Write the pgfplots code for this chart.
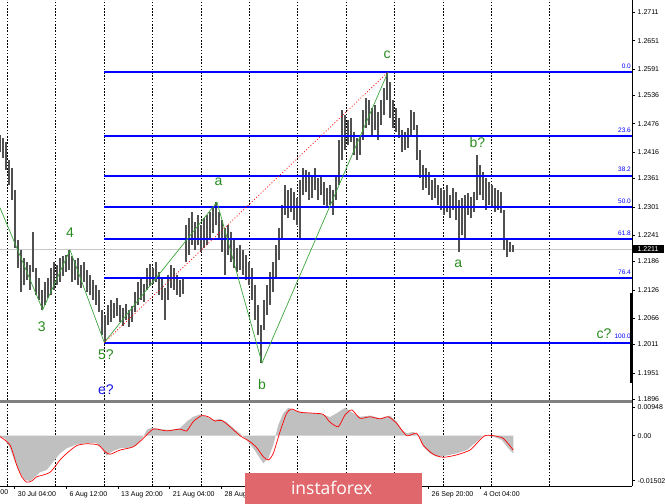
\documentclass[border=0pt]{standalone}
\usepackage{pgfplots}
\usepackage{pgfplotstable}
\pgfplotsset{compat=1.18}
\usepackage{fontspec}
\setmainfont{Liberation Sans}
\newfontfamily\instafont{Open Sans}
\definecolor{fibblue}{RGB}{0,0,255}
\definecolor{wavegreen}{RGB}{40,140,30}
\definecolor{zzgreen}{RGB}{60,165,60}
\definecolor{badge}{RGB}{224,104,108}
\definecolor{bargray}{RGB}{80,80,80}
\definecolor{histgray}{RGB}{192,192,192}
\definecolor{sepgray}{RGB}{128,128,128}
\definecolor{eblue}{RGB}{25,25,225}

\pgfplotstableread{
x lo hi
0 1.2417 1.2453
3 1.2404 1.2446
6 1.2379 1.2438
9 1.2347 1.2400
12 1.2316 1.2383
15 1.2214 1.2337
18 1.2172 1.2231
21 1.2122 1.2210
24 1.2136 1.2193
27 1.2147 1.2185
30 1.2126 1.2179
33 1.2164 1.2248
36 1.2115 1.2172
39 1.2105 1.2151
42 1.2084 1.2126
45 1.2094 1.2143
48 1.2109 1.2151
51 1.2115 1.2172
54 1.2126 1.2185
57 1.2136 1.2179
60 1.2143 1.2193
63 1.2155 1.2198
66 1.2164 1.2200
69 1.2168 1.2210
72 1.2143 1.2198
75 1.2147 1.2189
78 1.2136 1.2193
81 1.2130 1.2179
84 1.2143 1.2185
87 1.2122 1.2168
90 1.2115 1.2158
93 1.2105 1.2147
96 1.2094 1.2136
99 1.2080 1.2126
102 1.2031 1.2084
105 1.2015 1.2073
108 1.2052 1.2094
111 1.2059 1.2105
114 1.2067 1.2099
117 1.2071 1.2109
120 1.2059 1.2094
123 1.2050 1.2088
126 1.2063 1.2096
129 1.2048 1.2084
132 1.2059 1.2092
135 1.2080 1.2122
138 1.2094 1.2143
141 1.2105 1.2151
144 1.2101 1.2139
147 1.2126 1.2172
150 1.2134 1.2181
153 1.2139 1.2172
156 1.2143 1.2185
159 1.2115 1.2164
162 1.2105 1.2151
165 1.2063 1.2130
168 1.2105 1.2158
171 1.2130 1.2179
174 1.2126 1.2172
177 1.2115 1.2158
180 1.2111 1.2147
183 1.2118 1.2151
186 1.2185 1.2263
189 1.2200 1.2278
192 1.2221 1.2290
195 1.2210 1.2269
198 1.2221 1.2284
201 1.2206 1.2263
204 1.2214 1.2278
207 1.2221 1.2284
210 1.2231 1.2290
213 1.2246 1.2299
216 1.2263 1.2311
219 1.2231 1.2290
222 1.2206 1.2273
225 1.2158 1.2257
228 1.2200 1.2263
231 1.2185 1.2248
234 1.2172 1.2231
237 1.2164 1.2214
240 1.2168 1.2221
243 1.2158 1.2210
246 1.2147 1.2200
249 1.2136 1.2185
252 1.2105 1.2172
255 1.2063 1.2136
258 1.2031 1.2094
261 1.1972 1.2052
264 1.2042 1.2105
267 1.2073 1.2136
270 1.2094 1.2164
273 1.2122 1.2185
276 1.2151 1.2221
279 1.2189 1.2257
282 1.2231 1.2305
285 1.2284 1.2347
288 1.2278 1.2337
291 1.2290 1.2341
294 1.2273 1.2332
297 1.2263 1.2320
300 1.2231 1.2358
303 1.2326 1.2383
306 1.2332 1.2379
309 1.2316 1.2375
312 1.2320 1.2368
315 1.2337 1.2383
318 1.2316 1.2362
321 1.2326 1.2368
324 1.2305 1.2354
327 1.2299 1.2341
330 1.2305 1.2347
333 1.2284 1.2337
336 1.2316 1.2368
339 1.2347 1.2442
342 1.2400 1.2505
345 1.2421 1.2495
348 1.2431 1.2484
351 1.2438 1.2488
354 1.2410 1.2459
357 1.2400 1.2446
360 1.2410 1.2453
363 1.2442 1.2505
366 1.2467 1.2531
369 1.2474 1.2526
372 1.2453 1.2509
375 1.2463 1.2516
378 1.2442 1.2501
381 1.2474 1.2526
384 1.2495 1.2552
387 1.2526 1.2583
390 1.2488 1.2564
393 1.2467 1.2526
396 1.2459 1.2509
399 1.2446 1.2488
402 1.2417 1.2463
405 1.2421 1.2459
408 1.2425 1.2467
411 1.2453 1.2505
414 1.2463 1.2501
417 1.2400 1.2474
420 1.2362 1.2421
423 1.2337 1.2389
426 1.2341 1.2383
429 1.2326 1.2375
432 1.2316 1.2358
435 1.2320 1.2362
438 1.2305 1.2347
441 1.2295 1.2341
444 1.2284 1.2337
447 1.2290 1.2347
450 1.2278 1.2326
453 1.2295 1.2341
456 1.2273 1.2332
459 1.2206 1.2316
462 1.2242 1.2320
465 1.2231 1.2326
468 1.2284 1.2330
471 1.2278 1.2322
474 1.2290 1.2332
477 1.2316 1.2410
480 1.2326 1.2389
483 1.2316 1.2375
486 1.2295 1.2362
489 1.2305 1.2354
492 1.2299 1.2347
495 1.2290 1.2341
498 1.2295 1.2337
501 1.2288 1.2332
504 1.2210 1.2295
507 1.2196 1.2236
510 1.2206 1.2227
513 1.2206 1.2221
}\bars

\pgfplotstableread{
x v
0 -0.0003
5 -0.0009
10 -0.0042
15 -0.0087
20 -0.0125
25 -0.0148
30 -0.0151
35 -0.0137
40 -0.0122
46.7 -0.0114
53.3 -0.0087
60 -0.0059
66.7 -0.0042
76.7 -0.0029
86.7 -0.0025
96.7 -0.0025
101.7 -0.0042
106.7 -0.0067
111.7 -0.0053
120 -0.0042
130 -0.0040
136.7 -0.0031
143.3 -0.0003
146.7 0.0019
151.7 0.0027
160 0.0022
170 0.0019
180 0.0025
186.7 0.0047
193.3 0.0063
200 0.0071
206.7 0.0063
213.3 0.0052
220 0.0056
226.7 0.0045
233.3 0.0025
240 0.0008
246.7 -0.0014
253.3 -0.0042
260 -0.0075
263.3 -0.0092
268.3 -0.0075
273.3 -0.0031
278.3 0.0036
283.3 0.0075
288.3 0.0093
293.3 0.0086
300 0.0080
310 0.0075
320 0.0075
330 0.0062
336.7 0.0075
345 0.0093
353.3 0.0075
360 0.0063
370 0.0067
380 0.0058
390 0.0067
396.7 0.0047
401.7 0.0019
406.7 0.0008
413.3 0.0013
418.3 0.0000
423.3 -0.0037
430 -0.0059
436.7 -0.0070
445 -0.0067
456.7 -0.0059
466.7 -0.0048
476.7 -0.0020
483.3 0.0000
493.3 -0.0003
501.7 -0.0014
508.3 -0.0042
513.3 -0.0059
}\hist

\pgfplotstableread{
x v
0 -0.0003
10 -0.0031
16.7 -0.0098
21.7 -0.0137
26.7 -0.0155
31.7 -0.0151
36.7 -0.0137
43.3 -0.0131
50 -0.0122
55 -0.0103
60 -0.0081
66.7 -0.0059
76.7 -0.0033
86.7 -0.0027
98.3 -0.0031
105 -0.0053
110 -0.0062
120 -0.0048
133.3 -0.0037
143.3 -0.0009
153.3 0.0022
166.7 0.0016
180 0.0022
186.7 0.0016
193.3 0.0047
201.7 0.0067
208.3 0.0063
215 0.0049
221.7 0.0051
230 0.0030
240 0.0000
250 -0.0020
256.7 -0.0040
263.3 -0.0070
268.3 -0.0081
273.3 -0.0059
280 0.0013
286.7 0.0075
291.7 0.0089
300 0.0078
313.3 0.0075
323.3 0.0071
330 0.0045
338.3 0.0030
345 0.0069
351.7 0.0086
360 0.0058
370 0.0063
380 0.0056
388.3 0.0063
396.7 0.0041
406.7 0.0000
416.7 0.0008
423.3 -0.0032
433.3 -0.0062
443.3 -0.0072
456.7 -0.0064
470 -0.0048
478.3 -0.0020
485 0.0000
493.3 0.0000
503.3 -0.0009
513.3 -0.0048
}\signal

\begin{document}
\begin{tikzpicture}[x=1pt,y=1pt]
\useasboundingbox (0,0) rectangle (665,504);
\fill[white] (0,0) rectangle (665,504);

% ---------------- main price panel ----------------
\begin{axis}[
  at={(0pt,104pt)}, anchor=south west,
  width=632pt, height=400pt, scale only axis,
  xmin=0, xmax=632, ymin=1.18939, ymax=1.27369,
  axis line style={draw=none},
  clip=false,
  xtick=\empty,
  extra x ticks={7.3,55.7,104.5,152.7,201,249.3,297.7,346,394.3,442.8,491.5,549.3},
  extra x tick labels={},
  extra x tick style={grid=major, major tick length=0pt},
  major grid style={black, line width=0.6pt, dash pattern=on 1.6pt off 1.6pt},
  scaled y ticks=false,
  ytick={1.1896,1.1951,1.2011,1.2066,1.2126,1.2186,1.2241,1.2301,1.2361,1.2416,1.2476,1.2536,1.2591,1.2651,1.2711},
  yticklabels={1.1896,1.1951,1.2011,1.2066,1.2126,1.2186,1.2241,1.2301,1.2361,1.2416,1.2476,1.2536,1.2591,1.2651,1.2711},
  ytick pos=upper, yticklabel pos=upper,
  tick align=outside, major tick length=2.5pt,
  tick style={black, line width=0.6pt},
  yticklabel style={font=\fontsize{7}{8}\selectfont, inner sep=0pt, anchor=west, xshift=3pt},
]
% current price line
\addplot[black!22, line width=0.8pt, forget plot] coordinates {(0,1.2211) (632,1.2211)};
% price bars (high-low)
\addplot[draw=none, mark=none, forget plot,
  error bars/.cd, y dir=plus, y explicit, error mark=none,
  error bar style={line width=1.5pt, draw=bargray}]
  table[x=x, y=lo, y error expr=\thisrow{hi}-\thisrow{lo}] {\bars};
% Fibonacci levels
\addplot[fibblue, line width=2pt] coordinates {(104.3,1.2585) (632,1.2585)};
\addplot[fibblue, line width=2pt] coordinates {(104.3,1.2450) (632,1.2450)};
\addplot[fibblue, line width=2pt] coordinates {(104.3,1.2367) (632,1.2367)};
\addplot[fibblue, line width=2pt] coordinates {(104.3,1.2300) (632,1.2300)};
\addplot[fibblue, line width=2pt] coordinates {(104.3,1.2233) (632,1.2233)};
\addplot[fibblue, line width=2pt] coordinates {(104.3,1.2150) (632,1.2150)};
\addplot[fibblue, line width=2pt] coordinates {(104.3,1.2015) (632,1.2015)};
% wave zigzag
\addplot[zzgreen, line width=0.7pt] coordinates {(0,1.2299) (42.7,1.2084) (70,1.2210) (104.3,1.2015) (217,1.2311) (262,1.1972) (388,1.2585)};
% fib baseline
\addplot[red, line width=0.7pt, dash pattern=on 1pt off 2pt] coordinates {(104.3,1.2015) (388,1.2585)};
% fib labels
\begin{scope}[every node/.style={anchor=south east, text=fibblue, inner sep=0pt, font=\fontsize{6.5}{7}\selectfont}]
\node at (axis cs:631,1.2592) {0.0};
\node at (axis cs:631,1.2457) {23.6};
\node at (axis cs:631,1.2374) {38.2};
\node at (axis cs:631,1.2307) {50.0};
\node at (axis cs:631,1.2240) {61.8};
\node at (axis cs:631,1.2157) {76.4};
\node at (axis cs:631,1.2022) {100.0};
\end{scope}
\end{axis}

% ---------------- MACD panel ----------------
\begin{axis}[
  at={(0pt,18pt)}, anchor=south west,
  width=632pt, height=84pt, scale only axis,
  xmin=0, xmax=632, ymin=-0.01677, ymax=0.01123,
  axis line style={draw=none},
  clip=false,
  xtick={14.7,66.3,118,169.7,221.5,428.5,480.3},
  xticklabels={30 Jul 04:00,6 Aug 12:00,13 Aug 20:00,21 Aug 04:00,28 Aug 12:00,26 Sep 20:00,4 Oct 04:00},
  xtick pos=lower,
  xticklabel style={font=\fontsize{7}{8}\selectfont, inner sep=0pt, anchor=north west, xshift=3pt, yshift=-3pt},
  extra x ticks={7.3,55.7,104.5,152.7,201,249.3,297.7,346,394.3,442.8,491.5,549.3},
  extra x tick labels={},
  extra x tick style={grid=major, major tick length=0pt},
  major grid style={black, line width=0.6pt, dash pattern=on 1.6pt off 1.6pt},
  scaled y ticks=false,
  ytick={-0.01502,0,0.00948},
  yticklabels={-0.01502,0.00,0.00948},
  ytick pos=upper, yticklabel pos=upper,
  tick align=outside, major tick length=2.5pt,
  tick style={black, line width=0.6pt},
  yticklabel style={font=\fontsize{7}{8}\selectfont, inner sep=0pt, anchor=west, xshift=3pt},
]
\addplot[fill=histgray, draw=none, forget plot] table[x=x, y=v] {\hist} \closedcycle;
\addplot[red, line width=0.7pt, smooth, tension=0.4] table[x=x, y=v] {\signal};
\end{axis}

% panel frame lines
\draw[sepgray, line width=2.6pt] (0,102.5) -- (632,102.5);
\draw[black, line width=0.7pt] (632,18) -- (632,504);
\draw[black, line width=0.7pt] (0,18) -- (632,18);
\draw[black, line width=2.2pt] (631.2,121) -- (631.2,211);

% partial label at left edge (rest of "22 Jul 20:00" lies off the chart)
\node[anchor=north west, inner sep=0pt, font=\fontsize{7}{8}\selectfont] at (0.3,15) {00};

% current price box
\node[fill=black, text=white, inner sep=0pt, minimum width=31pt, minimum height=7.5pt, anchor=west,
      font=\fontsize{7}{8}\selectfont] at (632.3,254.8) {1.2211};

% wave labels
\begin{scope}[every node/.style={text=wavegreen, inner sep=0pt, font=\fontsize{14}{14}\selectfont}]
\node at (41.7,177.3) {3};
\node at (70,271) {4};
\node at (106,149) {5?};
\node at (218.5,322.5) {a};
\node at (262,120) {b};
\node at (387,449) {c};
\node at (458.3,240) {a};
\node at (477.3,361.3) {b?};
\node at (604,170.7) {c?};
\end{scope}
\node[text=eblue, inner sep=0pt, font=\fontsize{14}{14}\selectfont] at (106,114) {e?};

% watermark badge
\fill[badge] (245,0) rectangle (421.7,31);
\node[text=white, anchor=base, inner sep=0pt, font=\instafont\fontsize{17.5}{18}\selectfont] at (331.7,9.7) {instaforex};
\end{tikzpicture}
\end{document}
